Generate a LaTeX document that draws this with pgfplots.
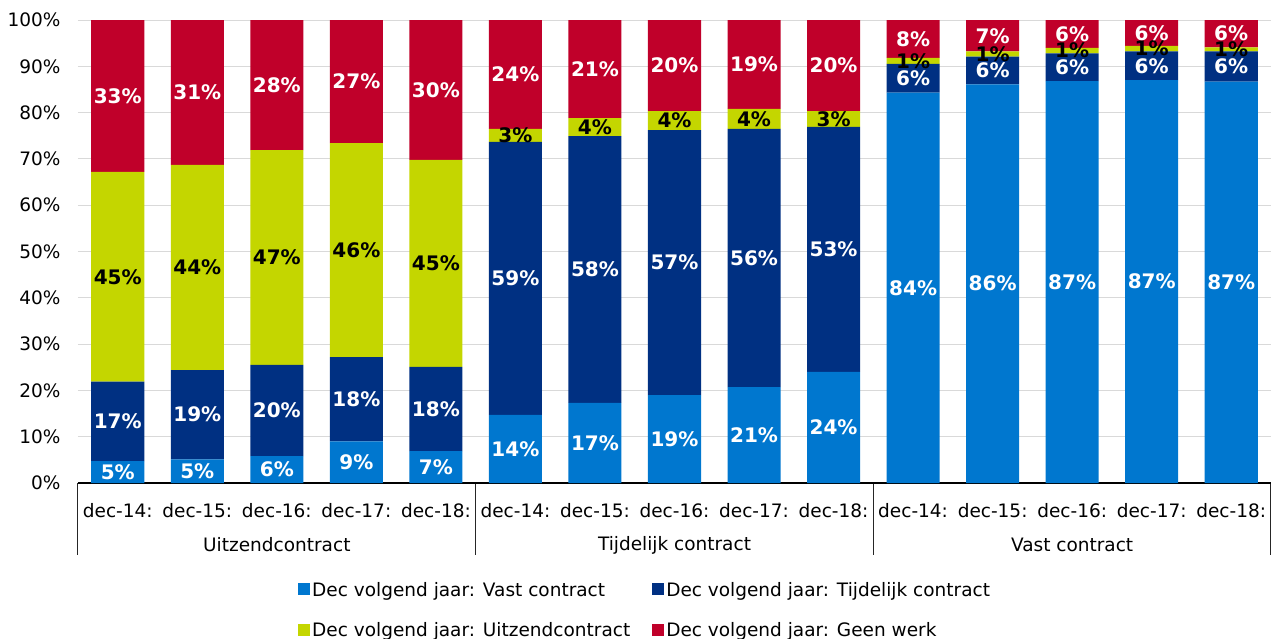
\documentclass[border=0pt]{standalone}
\usepackage{fontspec}
\setmainfont{DejaVu Sans}
\usepackage{pgfplots}
\usepackage{pgfplotstable}
\pgfplotsset{compat=1.18}
\definecolor{cVast}{RGB}{0,119,207}
\definecolor{cTijd}{RGB}{0,48,130}
\definecolor{cUitz}{RGB}{196,214,0}
\definecolor{cGeen}{RGB}{192,0,42}

\pgfplotstableread{
x V T U G lV lT lU lG
0 4.7 17.2 45.3 32.8 5 17 45 33
1 5.1 19.3 44.3 31.3 5 19 44 31
2 5.8 19.7 46.4 28.1 6 20 47 28
3 9.0 18.2 46.2 26.6 9 18 46 27
4 6.9 18.2 44.7 30.2 7 18 45 30
5 14.7 59.0 2.8 23.5 14 59 3 24
6 17.3 57.6 3.9 21.2 17 58 4 21
7 19.0 57.2 4.1 19.7 19 57 4 20
8 20.7 55.8 4.3 19.2 21 56 4 19
9 24.0 52.9 3.4 19.7 24 53 3 20
10 84.3 6.2 1.3 8.2 84 6 1 8
11 86.1 6.0 1.1 6.8 86 6 1 7
12 86.8 6.0 1.2 6.0 87 6 1 6
13 87.0 6.2 1.2 5.6 87 6 1 6
14 86.7 6.5 0.9 5.9 87 6 1 6
}\data

\newcommand{\tfont}{\fontsize{18.5}{22}\selectfont}
\newcommand{\lfont}{\bfseries\fontsize{20}{22}\selectfont}

\begin{document}
\begin{tikzpicture}
\path[use as bounding box] (-78pt,-155pt) rectangle (1193pt,483pt);
\pgfplotsset{
  base/.style={
    scale only axis, width=1193pt, height=463pt,
    xmin=-0.5, xmax=14.5, ymin=0, ymax=100,
    anchor=south west, at={(0pt,0pt)}, clip=false,
  }
}
\begin{axis}[base, ybar stacked, bar width=0.667,
  axis line style={draw=none},
  ymajorgrids, grid style={color=black!15, line width=0.9pt},
  ytick={0,10,20,30,40,50,60,70,80,90,100},
  yticklabels={0\%,10\%,20\%,30\%,40\%,50\%,60\%,70\%,80\%,90\%,100\%},
  xtick=data,
  xticklabels={dec-14:,dec-15:,dec-16:,dec-17:,dec-18:,dec-14:,dec-15:,dec-16:,dec-17:,dec-18:,dec-14:,dec-15:,dec-16:,dec-17:,dec-18:},
  major tick length=0pt,
  ticklabel style={font=\tfont},
  yticklabel style={xshift=-14pt},
  xticklabel style={anchor=base, yshift=-34pt},
  legend columns=2,
  legend cell align=left,
  legend style={at={(220pt,-97pt)}, anchor=north west, draw=none, font=\tfont,
    inner sep=0pt, row sep=21pt,
    /tikz/every even column/.append style={column sep=20pt}},
  legend image code/.code={\fill[#1] (0pt,-5pt) rectangle (12pt,7pt);},
]
\addplot[fill=cVast, draw=none] table[x=x, y=V] {\data};
\addplot[fill=cTijd, draw=none] table[x=x, y=T] {\data};
\addplot[fill=cUitz, draw=none] table[x=x, y=U] {\data};
\addplot[fill=cGeen, draw=none] table[x=x, y=G] {\data};
\legend{Dec volgend jaar: Vast contract, Dec volgend jaar: Tijdelijk contract, Dec volgend jaar: Uitzendcontract, Dec volgend jaar: Geen werk}
\draw[line width=1.3pt] (axis cs:-0.5,0) -- (axis cs:14.5,0);
\draw[line width=1pt, black!85] (axis cs:-0.5,0) -- ([yshift=-72pt]axis cs:-0.5,0);
\draw[line width=1pt, black!85] (axis cs:4.5,0) -- ([yshift=-72pt]axis cs:4.5,0);
\draw[line width=1pt, black!85] (axis cs:9.5,0) -- ([yshift=-72pt]axis cs:9.5,0);
\draw[line width=1pt, black!85] (axis cs:14.5,0) -- ([yshift=-72pt]axis cs:14.5,0);
\node[font=\tfont] at (axis cs:2,0) [yshift=-62pt] {Uitzendcontract};
\node[font=\tfont] at (axis cs:7,0) [yshift=-62pt] {Tijdelijk contract};
\node[font=\tfont] at (axis cs:12,0) [yshift=-62pt] {Vast contract};
\end{axis}
\begin{axis}[base, hide axis,
  point meta=explicit symbolic,
  nodes near coords={\pgfplotspointmeta\%},
  every node near coord/.append style={anchor=center, font=\lfont, text=white, inner sep=0pt},
]
\addplot[draw=none, mark=none] table[x=x, y expr=\thisrow{V}/2, meta=lV] {\data};
\addplot[draw=none, mark=none] table[x=x, y expr=\thisrow{V}+\thisrow{T}/2, meta=lT] {\data};
\addplot[draw=none, mark=none, every node near coord/.append style={text=black}] table[x=x, y expr=\thisrow{V}+\thisrow{T}+\thisrow{U}/2, meta=lU] {\data};
\addplot[draw=none, mark=none] table[x=x, y expr=\thisrow{V}+\thisrow{T}+\thisrow{U}+\thisrow{G}/2, meta=lG] {\data};
\end{axis}
\end{tikzpicture}
\end{document}
